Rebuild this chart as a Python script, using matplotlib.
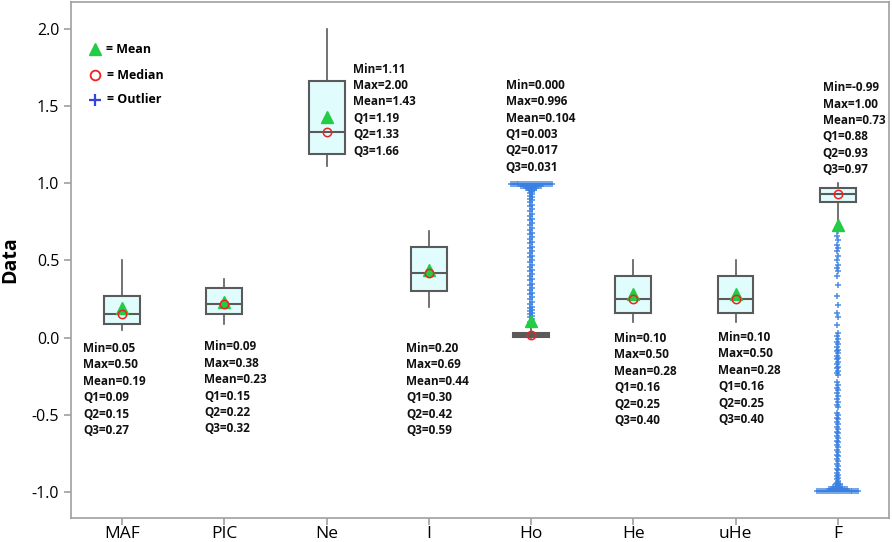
import numpy as np
import matplotlib
matplotlib.use("Agg")
import matplotlib.pyplot as plt

# ---------------- data ----------------
categories = ["MAF", "PIC", "Ne", "I", "Ho", "He", "uHe", "F"]
mins   = [0.05, 0.09, 1.11, 0.20, 0.000, 0.10, 0.10, -0.99]
maxs   = [0.50, 0.38, 2.00, 0.69, 0.996, 0.50, 0.50, 1.00]
means  = [0.19, 0.23, 1.43, 0.44, 0.104, 0.28, 0.28, 0.73]
q1s    = [0.09, 0.15, 1.19, 0.30, 0.003, 0.16, 0.16, 0.88]
q2s    = [0.15, 0.22, 1.33, 0.42, 0.017, 0.25, 0.25, 0.93]
q3s    = [0.27, 0.32, 1.66, 0.59, 0.031, 0.40, 0.40, 0.97]
whis_lo = [0.05, 0.09, 1.11, 0.20, 0.000, 0.10, 0.10, 0.75]
whis_hi = [0.50, 0.38, 2.00, 0.69, 0.070, 0.50, 0.50, 1.00]
stat_labels = [
    ["Min=0.05", "Max=0.50", "Mean=0.19", "Q1=0.09", "Q2=0.15", "Q3=0.27"],
    ["Min=0.09", "Max=0.38", "Mean=0.23", "Q1=0.15", "Q2=0.22", "Q3=0.32"],
    ["Min=1.11", "Max=2.00", "Mean=1.43", "Q1=1.19", "Q2=1.33", "Q3=1.66"],
    ["Min=0.20", "Max=0.69", "Mean=0.44", "Q1=0.30", "Q2=0.42", "Q3=0.59"],
    ["Min=0.000", "Max=0.996", "Mean=0.104", "Q1=0.003", "Q2=0.017", "Q3=0.031"],
    ["Min=0.10", "Max=0.50", "Mean=0.28", "Q1=0.16", "Q2=0.25", "Q3=0.40"],
    ["Min=0.10", "Max=0.50", "Mean=0.28", "Q1=0.16", "Q2=0.25", "Q3=0.40"],
    ["Min=-0.99", "Max=1.00", "Mean=0.73", "Q1=0.88", "Q2=0.93", "Q3=0.97"],
]
# outliers read from the strip of '+' marks
ho_outliers = [0.08, 0.10, 0.12, 0.13, 0.14, 0.15, 0.16, 0.17, 0.18, 0.19, 0.20,
               0.22, 0.23, 0.25, 0.26, 0.28, 0.29, 0.31, 0.32, 0.34, 0.35, 0.37,
               0.38, 0.40, 0.41, 0.43, 0.44, 0.46, 0.47, 0.49, 0.50, 0.52, 0.53,
               0.55, 0.56, 0.58, 0.59, 0.61, 0.62, 0.64, 0.65, 0.67, 0.68, 0.70,
               0.71, 0.73, 0.74, 0.76, 0.77, 0.79, 0.80, 0.82, 0.83, 0.85, 0.86,
               0.88, 0.89, 0.90, 0.91, 0.92, 0.93, 0.94, 0.95, 0.96, 0.97, 0.98]
ho_band_value = 0.994
f_outliers = [0.72, 0.70, 0.69, 0.66, 0.63, 0.60, 0.58, 0.56, 0.53, 0.50, 0.47,
              0.45, 0.43, 0.40, 0.34, 0.27, 0.21, 0.16, 0.13, 0.08, 0.03, 0.01,
              -0.01, -0.03, -0.04, -0.06, -0.08, -0.09, -0.10, -0.12, -0.13,
              -0.14, -0.16, -0.17, -0.19, -0.20, -0.22, -0.23, -0.24, -0.29,
              -0.31, -0.33, -0.34, -0.36, -0.38, -0.40, -0.42, -0.44, -0.45,
              -0.49, -0.50, -0.52, -0.53, -0.55, -0.56, -0.58, -0.59, -0.61,
              -0.62, -0.64, -0.65, -0.67, -0.68, -0.70, -0.71, -0.73, -0.74,
              -0.76, -0.77, -0.79, -0.80, -0.82, -0.83, -0.85, -0.86, -0.88,
              -0.89, -0.90, -0.91, -0.92, -0.93, -0.94, -0.95, -0.96, -0.97,
              -0.98]
f_band_value = -0.994
yticks = [-1.0, -0.5, 0.0, 0.5, 1.0, 1.5, 2.0]

# ---------------- styling ----------------
plt.rcParams['font.family'] = ['Open Sans', 'DejaVu Sans']
fig = plt.figure(figsize=(8.92, 5.42), dpi=100)
ax = fig.add_axes([0.0796, 0.0443, 0.917, 0.952])

edge = "#5a5a5a"
flier_col = "#3a80e0"
pos = np.arange(len(categories))

stats = []
for i in range(len(categories)):
    stats.append(dict(med=q2s[i], q1=q1s[i], q3=q3s[i],
                      whislo=whis_lo[i], whishi=whis_hi[i], fliers=[]))
ax.bxp(stats, positions=pos, widths=0.35, showcaps=False, showfliers=False,
       patch_artist=True,
       boxprops=dict(facecolor="#e0fcfc", edgecolor=edge, linewidth=1.5),
       whiskerprops=dict(color=edge, linewidth=1.2),
       medianprops=dict(color=edge, linewidth=1.5))

# outliers
def strip(idx, values, width=0.008):
    offs = [(-1) ** k * width for k in range(len(values))]
    ax.plot(pos[idx] + np.array(offs), values, linestyle="none", marker="+",
            color=flier_col, markersize=4, mew=1.1, alpha=0.9, zorder=3)

def band(idx, value, halfwidth, n):
    xs = pos[idx] + np.linspace(-halfwidth, halfwidth, n)
    ax.plot(xs, [value] * n, linestyle="none", marker="+", color=flier_col,
            markersize=4, mew=1.1, alpha=0.9, zorder=3)

ho = categories.index("Ho")
fi = categories.index("F")
strip(ho, ho_outliers, 0.008)
band(ho, ho_band_value, 0.2, 22)
band(ho, ho_band_value - 0.012, 0.10, 10)
band(ho, ho_band_value - 0.025, 0.05, 6)
band(ho, ho_band_value - 0.04, 0.025, 3)
strip(fi, f_outliers, 0.006)
band(fi, f_band_value, 0.2, 22)
band(fi, f_band_value + 0.012, 0.09, 9)
band(fi, f_band_value + 0.025, 0.045, 5)
band(fi, f_band_value + 0.045, 0.02, 3)

# mean and median markers
ax.plot(pos, means, linestyle="none", marker="^", color="#22cc44",
        markersize=9, zorder=5)
ax.plot(pos, q2s, linestyle="none", marker="o", markerfacecolor="none",
        markeredgecolor="#ee2222", markersize=6, mew=1.1, zorder=6)

# stats text
text_pos = [(-0.38, -0.07), (0.80, -0.06), (2.26, 1.74), (2.78, -0.07),
            (3.75, 1.636), (4.81, -0.006), (5.83, 0.0), (6.85, 1.62)]
step = 0.1065
for (tx, ty), lines in zip(text_pos, stat_labels):
    for k, s in enumerate(lines):
        ax.text(tx, ty - k * step, s, fontsize=8.5, fontweight="bold",
                ha="left", va="center", color="#111111")

# legend-like key
ax.plot([-0.27], [1.87], marker="^", color="#22cc44", markersize=9)
ax.text(-0.16, 1.87, "= Mean", fontsize=9, fontweight="bold", va="center")
ax.plot([-0.27], [1.70], marker="o", markerfacecolor="none",
        markeredgecolor="#ee2222", markersize=7, mew=1.3)
ax.text(-0.15, 1.70, "= Median", fontsize=9, fontweight="bold", va="center")
ax.plot([-0.27], [1.54], marker="+", color="#3344dd", markersize=9, mew=1.6)
ax.text(-0.15, 1.54, "= Outlier", fontsize=9, fontweight="bold", va="center")

ax.set_xlim(-0.5, len(categories) - 0.5)
ax.set_ylim(-1.17, 2.175)
ax.set_xticks(pos)
ax.set_xticklabels(categories, fontsize=12.5)
ax.set_yticks(yticks)
ax.set_yticklabels([f"{v:.1f}" for v in yticks], fontsize=11.5)
ax.set_ylabel("Data", fontsize=14, fontweight="bold")
ax.yaxis.set_label_coords(-0.062, 0.5)
for sp in ax.spines.values():
    sp.set_color("#a0a0a0")
    sp.set_linewidth(1.2)
ax.tick_params(axis="both", color="#a0a0a0", length=5, width=1.2)
ax.tick_params(axis="x", pad=0.5)

fig.savefig("out.png", dpi=100)
